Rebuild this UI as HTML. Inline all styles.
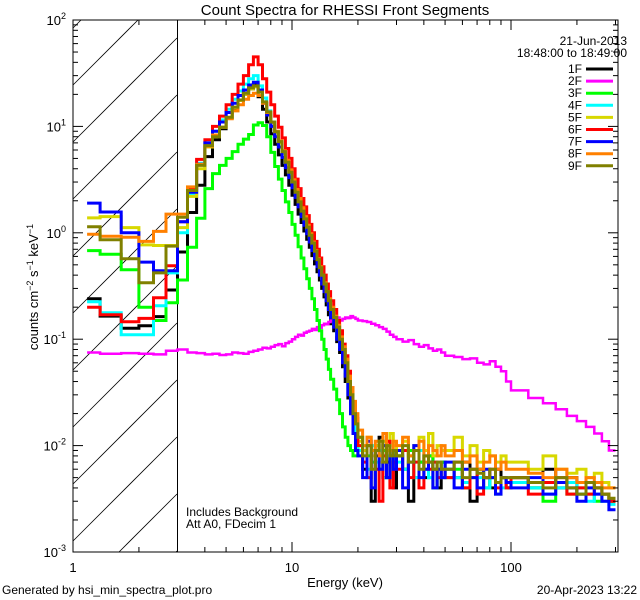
<!DOCTYPE html>
<html><head><meta charset="utf-8"><style>
html,body{margin:0;padding:0;background:#fff;width:640px;height:600px;overflow:hidden;}
svg{display:block;font-family:"Liberation Sans",sans-serif;}
</style></head><body>
<svg id="chart" width="640" height="600" viewBox="0 0 640 600" xmlns="http://www.w3.org/2000/svg">
<rect width="640" height="600" fill="#fff"/>
<text x="345" y="15" font-size="15" text-anchor="middle">Count Spectra for RHESSI Front Segments</text>
<defs><clipPath id="plotclip"><rect x="73" y="20" width="545" height="532"/></clipPath></defs>
<g id="hatch"></g>
<line x1="177.5" y1="20" x2="177.5" y2="552" stroke="#000" stroke-width="1"/>
<g id="series" clip-path="url(#plotclip)"></g>
<g id="axes"></g>
<text x="345" y="587" font-size="13" text-anchor="middle">Energy (keV)</text>
<text transform="translate(38,287) rotate(-90)" font-size="13" text-anchor="middle">counts cm<tspan dy="-5" font-size="9">−2</tspan><tspan dy="5"> s</tspan><tspan dy="-5" font-size="9">−1</tspan><tspan dy="5"> keV</tspan><tspan dy="-5" font-size="9">−1</tspan></text>
<text x="186" y="516" font-size="12">Includes Background</text>
<text x="186" y="528" font-size="12">Att A0, FDecim 1</text>
<text x="627" y="45" font-size="12" text-anchor="end">21-Jun-2013</text>
<text x="627" y="57" font-size="12" text-anchor="end">18:48:00 to 18:49:00</text>
<g id="legend"></g>
<text x="2" y="594" font-size="12">Generated by hsi_min_spectra_plot.pro</text>
<text x="637" y="594" font-size="12" text-anchor="end">20-Apr-2023 13:22</text>
</svg>
<script>
const edgesLow = [1.16,1.33,1.66,2.0,2.33,2.66];
const edgeSegments = [[3,15,1/3],[15,20,0.5],[20,30,1],[30,50,2],[50,100,5],[100,300,20]];
const segNames = ['1F','2F','3F','4F','5F','6F','7F','8F','9F'];
const segColors = ['#000000','#ff00ff','#00ff00','#00ffff','#d8d800','#ff0000','#0000ff','#ff8000','#808000'];
const low1F=[0.24,0.165,0.127,0.134,0.163,0.29];
const th1F=[0.66,1.55,2.8,5.2,7.5,9.5,12,14.5,17.5,20,22.5,25,19,14.5,11,8.5,6.8,5.4,4.3,3.5,2.8,2.25,1.85,1.5,1.25,1.04,0.87,0.73,0.61,0.51,0.43,0.36,0.3,0.25,0.21,0.17];
const mid1F=[.14,.12,.095,.075,.055,.04,.028,.02,.014,.01];
const tail1F=[9,6,10,3,8,12,5,7,9,4,8,6,3,9,7,5,8,6,4,7,6,5,7,3,6,5,4,6,5,4,5,4,6,4,5,3.5,4.5,4,3.5,3];
const low2F=[.075,.073,.074,.073,.072,.078];
const th2F=[.08,.075,.074,.072,.073,.071,.072,.075,.074,.073,.076,.078,.08,.083,.082,.085,.088,.09,.086,.092,.095,.1,.105,.11,.108,.115,.118,.12,.125,.122,.13,.128,.135,.14,.138,.145];
const mid2F=[.15,.155,.16,.15,.155,.16,.158,.165,.16,.155];
const tail2F=[150,148,145,140,135,130,125,118,110,105,100,95,98,90,85,88,82,78,80,75,70,68,65,66,60,58,62,55,50,40,33,28,25,22,19,17,15,13,11,9];
const low3F=[0.68,0.63,0.45,0.2,0.15,0.22];
const th3F=[0.36,0.73,1.37,2.6,3.6,4.3,5.0,5.8,6.8,7.6,8.4,10.3,10.8,10.2,8.0,5.7,4.2,3.2,2.5,1.95,1.55,1.2,0.95,0.74,0.58,0.46,0.37,0.3,0.24,0.19,0.15,0.12,0.1,0.08,0.065,0.052];
const mid3F=[.042,.034,.027,.02,.015,.012,.01,.009,.008,.008];
const tail3F=[12,9,8,7,10,6,9,5,8,7,8,6,9,5,7,6,8,4,6,7,5,6,4,5,6,4,5,3.5,5,4,4.5,4,3,4.5,3.5,4,3.5,3,3.5,3];
const low4F=[0.225,0.177,0.11,0.11,0.206,0.42];
const th4F=[1.0,2.3,4.5,7,9,11.5,14.5,18,21.5,25,28,30,24,18.5,14,11,8.8,7.0,5.6,4.5,3.6,2.9,2.35,1.9,1.55,1.3,1.08,0.9,0.76,0.63,0.53,0.44,0.37,0.31,0.26,0.21];
const mid4F=[.17,.14,.11,.085,.065,.05,.035,.025,.018,.013];
const tail4F=[9,8,6,10,7,9,5,8,6,9,7,6,8,5,9,6,5,7,6,5,6,5,4.5,6,5,4,5,4.5,4,5,4.5,4,3.5,4,4.5,3.5,3,3.5,3,2.8];
const low5F=[1.38,1.42,1.12,0.77,0.76,0.76];
const th5F=[1.12,2.2,4.0,6.4,8,9.8,12,15,17.5,20,22.5,23.5,21,16.5,13.5,10.8,8.7,7.0,5.7,4.6,3.7,3.0,2.4,1.95,1.6,1.33,1.1,0.92,0.77,0.64,0.54,0.45,0.37,0.31,0.26,0.22];
const mid5F=[.18,.15,.12,.095,.075,.055,.04,.03,.022,.017];
const tail5F=[11,9,12,8,10,7,11,9,13,10,9,11,8,10,12,9,13,8,10,9,9,12,8,10,7,9,8,7,8,7,7,6,8,6,5.5,6,5,5.5,4.5,4];
const low6F=[0.2,0.17,0.146,0.157,0.245,0.49];
const th6F=[1.27,2.6,4.9,7.5,10,12.5,16,20,25,30,38,45,38,28,21,16,12.5,9.8,7.8,6.2,5.0,4.0,3.2,2.6,2.1,1.75,1.45,1.2,1.0,0.83,0.7,0.58,0.48,0.4,0.33,0.28];
const mid6F=[.23,.19,.15,.12,.09,.07,.05,.035,.025,.018];
const tail6F=[10,7,5,9,6,3,8,11,4,7,6,9,5,7,4,8,6,7,5,6,5,7,4,6,3.5,5,6,4,5,4,5,3.5,4.5,5,3.5,4,3.5,4,3.5,3];
const low7F=[1.9,1.57,1.0,0.53,0.44,0.44];
const th7F=[1.27,2.4,4.4,7,9,11,13.5,16.5,19.5,22,24.5,26,22,16.5,12.8,10,8,6.4,5.1,4.1,3.3,2.65,2.15,1.75,1.42,1.18,0.98,0.82,0.68,0.57,0.48,0.4,0.33,0.28,0.23,0.19];
const mid7F=[.16,.13,.1,.08,.06,.045,.03,.02,.013,.009];
const tail7F=[8,5,11,4,9,6,10,5,8,6,9,4,7,10,5,6,7,4,6,5,7,4,6,5,4,6,5,3.5,5,4.5,4,5,3.5,4.5,4,3,4,3.5,3,2.5];
const low8F=[0.97,0.93,0.91,0.83,1.03,1.5];
const th8F=[1.5,2.7,4.4,6.5,8.3,9.8,11.8,14,16,18,19.5,20.5,19.5,16.5,13.5,11,9,7.3,5.9,4.8,3.9,3.15,2.55,2.1,1.72,1.42,1.18,0.98,0.82,0.68,0.57,0.48,0.4,0.34,0.28,0.24];
const mid8F=[.2,.165,.135,.105,.085,.065,.045,.035,.026,.02];
const tail8F=[14,10,12,9,11,8,13,10,9,11,10,12,8,9,11,7,10,9,8,10,8,9,7,8,6,7,8,6,7,6,6,5.5,5,6,5,4.5,5,4.5,4,4];
const low9F=[1.14,0.86,0.57,0.34,0.42,0.75];
const th9F=[1.4,2.5,4.3,6.6,8,9.8,12.2,15.2,17.7,20.5,23,24,21,17,13.7,11,8.9,7.2,5.8,4.6,3.7,3.0,2.4,1.95,1.6,1.35,1.13,0.95,0.8,0.67,0.56,0.47,0.4,0.33,0.28,0.23];
const mid9F=[.19,.16,.13,.1,.08,.06,.04,.03,.02,.016];
const tail9F=[12,8,10,6,9,11,7,10,8,9,8,10,7,9,6,8,7,6,7,6,6,7,5,6,5.5,5,6,4.5,5,5,5,4.5,4,5,4,3.5,4.5,4,3.5,3.2];

const lows=[low1F,low2F,low3F,low4F,low5F,low6F,low7F,low8F,low9F];
const ths=[th1F,th2F,th3F,th4F,th5F,th6F,th7F,th8F,th9F];
const mids=[mid1F,mid2F,mid3F,mid4F,mid5F,mid6F,mid7F,mid8F,mid9F];
const tails=[tail1F,tail2F,tail3F,tail4F,tail5F,tail6F,tail7F,tail8F,tail9F];

const X0=73,X1=618,Y0=20,Y1=552;
const xmin=1,xmax=Math.pow(10,(X1-X0)/219);
function xs(e){return X0+(Math.log10(e)-Math.log10(xmin))/(Math.log10(xmax)-Math.log10(xmin))*(X1-X0);}
function ys(v){return Y1-(Math.log10(v)+3)/5*(Y1-Y0);}
const NS="http://www.w3.org/2000/svg";
function mk(t,a,p){const e=document.createElementNS(NS,t);for(const k in a)e.setAttribute(k,a[k]);p.appendChild(e);return e;}

const edges=edgesLow.slice();
edgeSegments.forEach(s=>{const n=Math.round((s[1]-s[0])/s[2]);for(let i=0;i<n;i++)edges.push(s[0]+i*s[2]);});
edges.push(300);

// hatch lines clipped manually to the box [73,177]x[20,552]
const hatch=document.getElementById('hatch');
const HX1=177;
for(let c=-200;c<700;c+=57){
  // line: y = c - (x - X0)
  let xa=X0, ya=c;
  if(ya>Y1){xa=X0+(ya-Y1);ya=Y1;}
  let xb=HX1, yb=c-(HX1-X0);
  if(yb<Y0){xb=X0+(c-Y0);yb=Y0;}
  if(xa>=xb) continue;
  const l=mk('line',{x1:xa,y1:ya,x2:xb,y2:yb,stroke:'#000','stroke-width':0.8},hatch);
  
  
}

const sg=document.getElementById('series');
for(let s=0;s<9;s++){
  const vals=lows[s].concat(ths[s],mids[s],tails[s].map(v=>v*1e-3));
  let d='';
  for(let i=0;i<vals.length && i+1<edges.length;i++){
    const y=ys(vals[i]).toFixed(1),xa=xs(edges[i]).toFixed(1),xb=Math.min(X1,xs(edges[i+1])).toFixed(1);
    d+=(i===0?'M':'L')+xa+','+y+'L'+xb+','+y;
  }
  const p=mk('path',{d:d,fill:'none',stroke:segColors[s],'stroke-width':s===1?2.5:3,'stroke-linejoin':'miter'},sg);
  
  
}

const ax=document.getElementById('axes');
const frame=mk('rect',{x:X0,y:Y0,width:X1-X0,height:Y1-Y0,fill:'none',stroke:'#000','stroke-width':1},ax);


const xTickLabels=['1','10','100'];
for(let dcd=0;dcd<3;dcd++){
  for(let m=1;m<10;m++){
    const e=Math.pow(10,dcd)*m; if(e>xmax)break;
    const x=xs(e),L=m===1?10:5;
    mk('line',{x1:x,y1:Y1,x2:x,y2:Y1-L,stroke:'#000'},ax);
    mk('line',{x1:x,y1:Y0,x2:x,y2:Y0+L,stroke:'#000'},ax);
  }
  const t=mk('text',{x:xs(Math.pow(10,dcd)),y:572,'font-size':13,'text-anchor':'middle'},ax);
  t.textContent=xTickLabels[dcd];
  
  
}
const yExps=['-3','-2','-1','0','1','2'];
for(let k=0;k<6;k++){
  const base=Math.pow(10,k-3);
  for(let m=1;m<10;m++){
    const v=base*m; if(v>100.001)break;
    const y=ys(v),L=m===1?10:5;
    mk('line',{x1:X0,y1:y,x2:X0+L,y2:y,stroke:'#000'},ax);
    mk('line',{x1:X1,y1:y,x2:X1-L,y2:y,stroke:'#000'},ax);
  }
  const t=mk('text',{x:66,y:ys(base)+5,'font-size':13,'text-anchor':'end'},ax);
  
  
  const a=document.createElementNS(NS,'tspan');a.textContent='10';t.appendChild(a);
  const b=document.createElementNS(NS,'tspan');b.setAttribute('dy','-6');b.setAttribute('font-size','9');b.textContent=yExps[k];t.appendChild(b);
}

const lg=document.getElementById('legend');
for(let s=0;s<9;s++){
  const y=69+s*12.1;
  const t=mk('text',{x:582,y:y+4,'font-size':12,'text-anchor':'end'},lg);
  t.textContent=segNames[s];
  
  
  const l=mk('line',{x1:586,y1:y,x2:613,y2:y,stroke:segColors[s],'stroke-width':3},lg);
  
  
}
</script>
</body></html>
